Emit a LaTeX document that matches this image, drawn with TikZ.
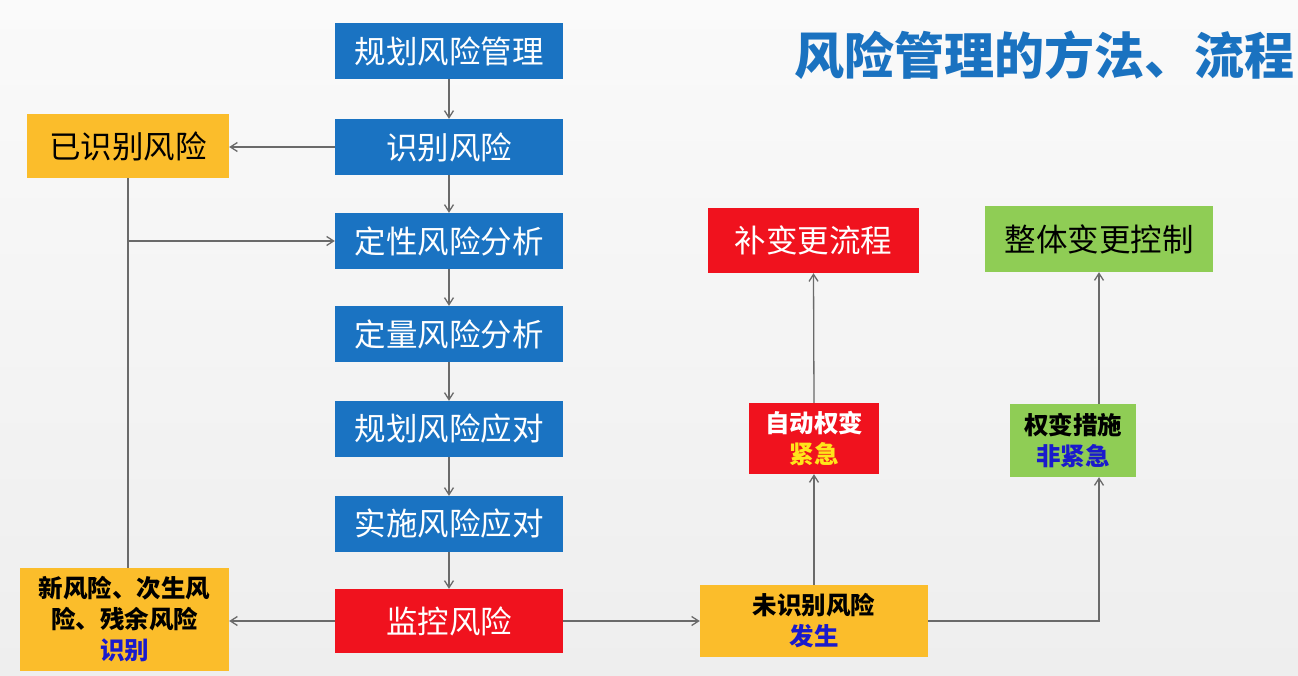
\documentclass[tikz,border=0pt]{standalone}
\usepackage{fontspec}
\newfontfamily\cjk{Noto Sans CJK SC}
\usetikzlibrary{arrows.meta}
\definecolor{bgA}{HTML}{FAFAFA}
\definecolor{bgB}{HTML}{EEEEEE}
\definecolor{pblue}{HTML}{1A73C2}
\definecolor{pyel}{HTML}{FBBD2B}
\definecolor{pred}{HTML}{F0121E}
\definecolor{pgreen}{HTML}{8FCD55}
\definecolor{pline}{HTML}{6A6A6A}
\definecolor{tblue}{HTML}{1A1ACC}
\definecolor{tyel}{HTML}{FFE51A}
\definecolor{ttl}{HTML}{1A72C0}
\tikzset{
  base/.style={rectangle, inner sep=0pt, align=center},
  bigtxt/.style={font=\cjk\fontsize{31.5}{36}\selectfont},
  smalltxt/.style={font=\cjk\bfseries\fontsize{24.5}{31}\selectfont},
  bluebox/.style={base, bigtxt, fill=pblue, text=white, minimum width=228pt, minimum height=56pt},
  redbox/.style={base, fill=pred, text=white},
  yelbox/.style={base, fill=pyel, text=black},
  grnbox/.style={base, fill=pgreen, text=black},
  conn/.style={draw=pline, line width=1.3pt, -{Straight Barb[length=7pt,width=9pt]}},
  plain/.style={draw=pline, line width=1.3pt}
}
\begin{document}
\begin{tikzpicture}[x=1pt,y=-1pt]
\shade[top color=bgA, bottom color=bgB] (0,0) rectangle (1298,676);
\useasboundingbox (0,0) rectangle (1298,676);

\node[anchor=center, font=\cjk\bfseries\fontsize{50}{56}\selectfont, text=ttl] (title) at (1044,55) {风险管理的方法、流程};

\node[bluebox] (p1) at (449,51) {规划风险管理};
\node[bluebox] (p2) at (449,147) {识别风险};
\node[bluebox] (p3) at (449,241) {定性风险分析};
\node[bluebox] (p4) at (449,334) {定量风险分析};
\node[bluebox] (p5) at (449,429) {规划风险应对};
\node[bluebox] (p6) at (449,524) {实施风险应对};
\node[redbox, bigtxt, minimum width=228pt, minimum height=64pt] (p7) at (449,621) {监控风险};

\node[yelbox, bigtxt, minimum width=202pt, minimum height=64pt] (yi) at (128,146) {已识别风险};
\node[yelbox, smalltxt, minimum width=209pt, minimum height=103pt] (xin) at (124.5,619.5) {新风险、次生风\\险、残余风险\\\textcolor{tblue}{识别}};

\node[yelbox, smalltxt, minimum width=228pt, minimum height=72pt] (ws) at (814,621) {未识别风险\\\textcolor{tblue}{发生}};
\node[redbox, smalltxt, minimum width=130pt, minimum height=71pt] (zd) at (814,438.5) {自动权变\\\textcolor{tyel}{紧急}};
\node[redbox, bigtxt, minimum width=211pt, minimum height=65pt] (bb) at (813.5,240.5) {补变更流程};
\node[grnbox, smalltxt, minimum width=126pt, minimum height=73pt] (qb) at (1073,440.5) {权变措施\\\textcolor{tblue}{非紧急}};
\node[grnbox, bigtxt, minimum width=228pt, minimum height=66pt] (zt) at (1099,239) {整体变更控制};

\draw[conn] (p1) -- (p2);
\draw[conn] (p2) -- (p3);
\draw[conn] (p3) -- (p4);
\draw[conn] (p4) -- (p5);
\draw[conn] (p5) -- (p6);
\draw[conn] (p6) -- (p7);

\draw[conn] (p2.west) -- (p2.west -| yi.east);
\draw[plain] (yi.south) -- (yi.south |- xin.north);
\draw[conn] (yi.south |- p3.west) -- (p3.west);

\draw[conn] (p7.west) -- (p7.west -| xin.east);
\draw[conn] (p7.east) -- (p7.east -| ws.west);

\draw[conn] (ws.north) -- (zd.south);
\draw[conn] (zd.north) -- (bb.south);

\draw[conn] (ws.east) -| (qb.south -| zt.south);
\draw[conn] (qb.north -| zt.south) -- (zt.south);
\end{tikzpicture}
\end{document}
